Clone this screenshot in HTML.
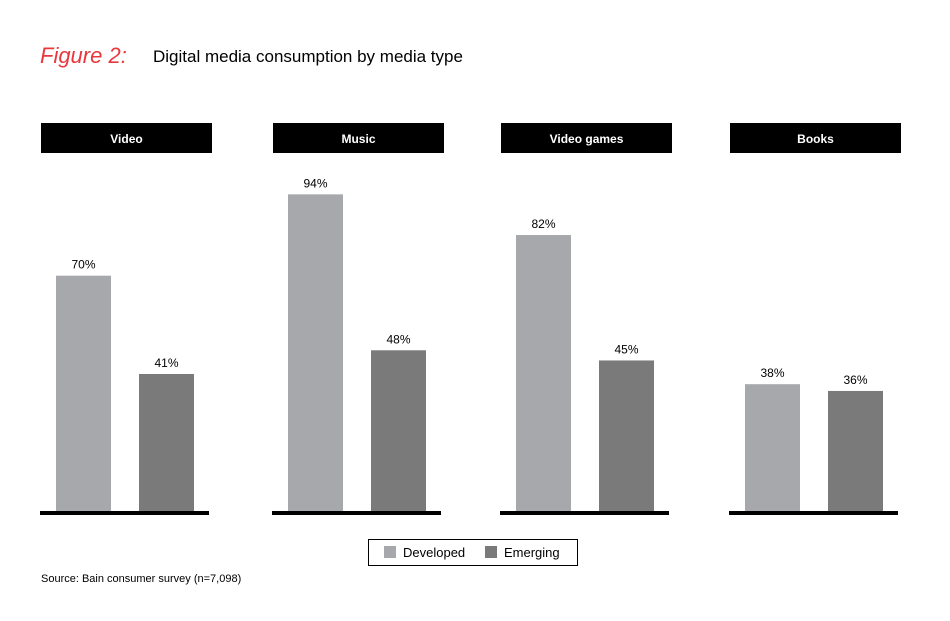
<!DOCTYPE html>
<html><head><meta charset="utf-8"><style>
body{margin:0;background:#fff;}
svg text{font-family:"Liberation Sans",sans-serif;}
</style></head><body>
<svg width="950" height="616" viewBox="0 0 950 616">
<text x="40" y="63" font-size="22" fill="#e8383d" font-style="italic" font-family="Liberation Serif,serif">Figure 2:</text>
<text x="153" y="62" font-size="17" fill="#000">Digital media consumption by media type</text>
<g id="panels"></g>
<rect x="368.5" y="539.5" width="209" height="26" fill="#fff" stroke="#000"/>
<rect x="384" y="546" width="12" height="12" fill="#a7a8ab"/>
<text x="403" y="557" font-size="13">Developed</text>
<rect x="485" y="546" width="12" height="12" fill="#7a7a7a"/>
<text x="504" y="557" font-size="13">Emerging</text>
<text x="41" y="582" font-size="11">Source: Bain consumer survey (n=7,098)</text>
</svg>
<script>
const categories=["Video","Music","Video games","Books"];
const developed=[70,94,82,38];
const emerging=[41,48,45,36];
const panelX=[41,273,501,730];
const baseY=513, scale=3.39;
const y=v=>baseY-v*scale;
const g=document.getElementById('panels');
const NS='http://www.w3.org/2000/svg';
function mk(t,a){const e=document.createElementNS(NS,t);for(const k in a)e.setAttribute(k,a[k]);g.appendChild(e);return e;}
categories.forEach((c,i)=>{
  const x0=panelX[i];
  const h=mk('rect',{x:x0,y:123,width:171,height:30,fill:'#000'});
  
  
  const ht=mk('text',{x:x0+85.5,y:143,'font-size':12,'font-weight':'bold',fill:'#fff','text-anchor':'middle'});
  ht.textContent=c;
  
  
  [[developed[i],'#a7a8ab',15],[emerging[i],'#7a7a7a',98]].forEach(([v,col,off],j)=>{
    const b=mk('rect',{x:x0+off,y:y(v),width:55,height:baseY-y(v),fill:col});
    
    
    const t=mk('text',{x:x0+off+27.5,y:y(v)-7,'font-size':12,'text-anchor':'middle',fill:'#000'});
    t.textContent=v+'%';
    
    
  });
  const l=mk('rect',{x:x0-1,y:511,width:169,height:4,fill:'#000'});
  
  
});
</script>
</body></html>
